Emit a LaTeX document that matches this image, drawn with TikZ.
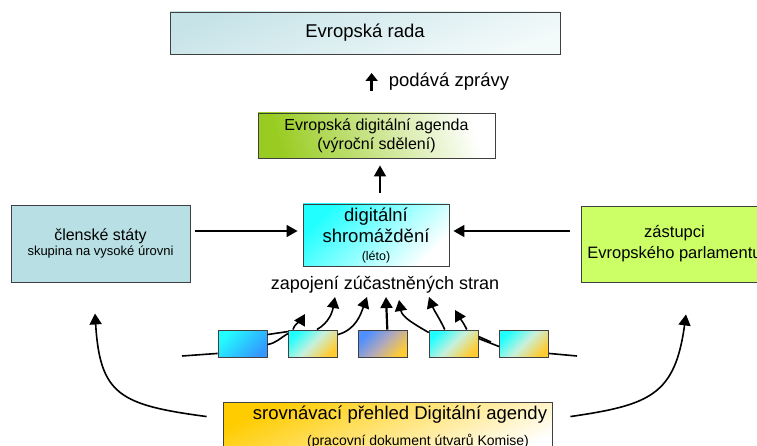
\documentclass[tikz,border=0pt]{standalone}
\usepackage{fontspec}
\setmainfont{Liberation Sans}
\usetikzlibrary{arrows.meta, positioning}

\definecolor{radablue}{HTML}{C6E3E8}
\definecolor{radalight}{HTML}{F3FAFA}
\definecolor{agendagreen}{HTML}{99CC22}
\definecolor{memberblue}{HTML}{B8DFE3}
\definecolor{parlgreen}{HTML}{CCFF66}
\definecolor{chipcyan}{HTML}{22FFFF}
\definecolor{chipblue}{HTML}{3399FF}
\definecolor{chipsky}{HTML}{4F8FFF}
\definecolor{chipgold}{HTML}{FFCC33}
\definecolor{chipmist}{HTML}{C8F0DC}
\definecolor{chipgrey}{HTML}{B4AAB8}
\definecolor{boardgold}{HTML}{FFCC00}

\tikzset{
	box/.style = {rectangle, draw=black!75, line width=0.9pt, inner sep=0pt, align=center},
	chip/.style = {box, minimum width=49pt, minimum height=27pt},
	arr/.style = {-{Triangle[length=11pt, width=12pt]}, line width=1.6pt},
	wire/.style = {line width=1.6pt},
}

\begin{document}
\begin{tikzpicture}[x=1pt, y=1pt, node distance=20.5pt]
	\useasboundingbox (0,0) rectangle (757,-446);
	\clip (0,0) rectangle (757,-446);

	\node (rada) [box, top color=radablue, bottom color=radalight, shading angle=20,
		minimum width=390pt, minimum height=42pt, font=\fontsize{18.5}{22}\selectfont] at (365,-33) {Evropská rada};
	\node (zpravy) [inner sep=0pt, font=\fontsize{18.5}{22}\selectfont] at (449,-82) {podává zprávy};
	\node (agenda) [box, top color=white, bottom color=agendagreen, shading angle=-72,
		minimum width=237pt, minimum height=45pt, font=\fontsize{16}{19}\selectfont] at (376.5,-135.5)
		{Evropská digitální agenda\\(výroční sdělení)};

	\node (digital) [box, top color=chipcyan, bottom color=white, shading angle=45,
		minimum width=146pt, minimum height=62pt, font=\fontsize{18.5}{21}\selectfont] at (376,-235)
		{digitální\\shromáždění\\[-3pt]{\fontsize{12.5}{14}\selectfont (léto)}};
	\node (clenske) [box, fill=memberblue, minimum width=179pt, minimum height=77pt] at (100.5,-243.5)
		{{\fontsize{16}{19}\selectfont členské státy}\\[1pt]{\fontsize{13}{16}\selectfont skupina na vysoké úrovni}};
	\node (parlament) [box, fill=parlgreen, minimum width=187pt, minimum height=76pt,
		font=\fontsize{16.5}{21}\selectfont] at (674.5,-244) {zástupci\\Evropského parlamentu};

	\node (stran) [inner sep=0pt, font=\fontsize{18}{21}\selectfont] at (385,-285) {zapojení zúčastněných stran};

	\node (b1) [chip, top color=chipcyan, bottom color=chipblue, shading angle=45] at (242.5,-343.5) {};
	\node (b2) [chip, top color=chipcyan, bottom color=chipgold, middle color=chipmist, shading angle=45, right = of b1] {};
	\node (b3) [chip, top color=chipsky, bottom color=chipgold, middle color=chipgrey, shading angle=45, right = of b2] {};
	\node (b4) [chip, top color=chipcyan, bottom color=chipgold, middle color=chipmist, shading angle=45, right = of b3] {};
	\node (b5) [chip, top color=chipcyan, bottom color=chipgold, middle color=chipmist, shading angle=45, right = of b4] {};

	\node (prehled) [box, top color=boardgold, bottom color=white, shading angle=25,
		minimum width=329pt, minimum height=60pt] at (387.5,-432) {};
	\node (prehledtop) [inner sep=0pt, font=\fontsize{18.5}{22}\selectfont] at (400,-415) {srovnávací přehled Digitální agendy};
	\node (prehledsub) [inner sep=0pt, font=\fontsize{14}{17}\selectfont] at (418,-441) {(pracovní dokument útvarů Komise)};

	\coordinate (din) at ([yshift=4pt]digital.west);
	\coordinate (dout) at ([yshift=4pt]digital.east);
	\coordinate (w0) at (182,-356);
	\coordinate (w1) at (491,-342);
	\coordinate (w2) at (577,-356);
	\coordinate (t1) at (305,-314);
	\coordinate (t2) at (335,-297);
	\coordinate (t3) at (367,-297);
	\coordinate (t4) at (386,-297);
	\coordinate (t5) at (399,-300);
	\coordinate (t6) at (429,-297);
	\coordinate (t7) at (455,-310);

	\draw [-{Triangle[length=8pt, width=12pt]}, line width=2.4pt] ([xshift=-17pt, yshift=-9pt]zpravy.west) -- ([xshift=-17pt, yshift=9pt]zpravy.west);
	\draw [arr, shorten <=11pt, shorten >=7pt] ([xshift=4pt]digital.north) -- ([xshift=4pt]digital.north |- agenda.south);
	\draw [arr, shorten <=5pt, shorten >=5pt] (clenske.east |- din) -- (din);
	\draw [arr, shorten <=11pt, shorten >=4pt] (parlament.west |- dout) -- (dout);

	\draw [wire] (w0) -- ([yshift=4pt]b1.south west);
	\draw [wire] ([yshift=-5pt]b1.north east) -- ([yshift=-2pt]b2.north west);
	\draw [wire] ([yshift=-15pt]b1.north east) to [out=10, in=-150] ([yshift=-4pt]b2.north west);
	\draw [wire] ([yshift=-7pt]b4.north east) -- (w1);
	\draw [wire] ([yshift=-9pt]b4.north east) -- ([yshift=-17pt]b5.north west);
	\draw [wire] ([yshift=4pt]b5.south east) -- (w2);

	\path [arr]
		([xshift=5pt]b2.north west) edge [out=70, in=-120] (t1)
		([xshift=29pt]b2.north west) edge [out=30, in=-100] (t2)
		([yshift=-5pt]b2.north east) edge [out=15, in=-110] (t3)
		([xshift=4pt]b3.north) edge [line width=2.2pt] (t4)
		([yshift=-3pt]b4.north west) edge [out=150, in=-80] (t5)
		([xshift=16pt]b4.north west) edge [out=115, in=-70] (t6)
		([xshift=38pt]b4.north west) edge [out=115, in=-60] (t7);

	\draw [arr] ([xshift=-16pt, yshift=-15pt]prehled.north west) .. controls (120,-405) and (100,-395) .. ([xshift=-5.5pt, yshift=-31pt]clenske.south);
	\draw [arr] ([xshift=18pt, yshift=-15pt]prehled.north east) .. controls (650,-405) and (675,-395) .. ([xshift=11.5pt, yshift=-32pt]parlament.south);
\end{tikzpicture}
\end{document}
